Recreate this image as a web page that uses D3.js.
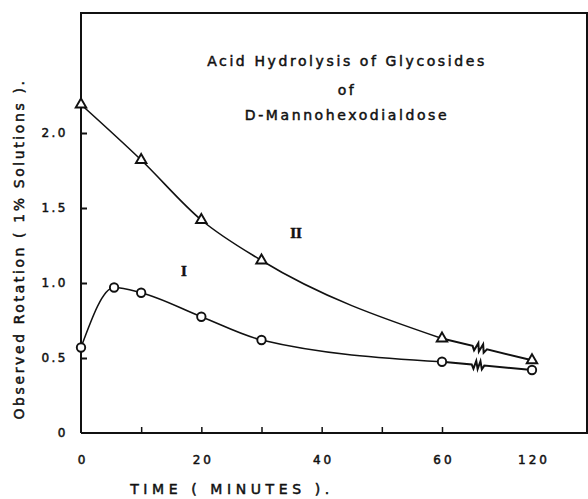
<!DOCTYPE html>
<html>
<head>
<meta charset="utf-8">
<script src="https://cdn.jsdelivr.net/npm/d3@7"></script>
<style>
  body { margin: 0; background: #fff; }
  svg text { font-family: "DejaVu Sans", sans-serif; fill: #111; stroke: #111; stroke-width: 0.5px; }
</style>
</head>
<body>
<svg id="chart" width="588" height="499"></svg>
<script>
// data
let timeI = [0, 5.5, 10, 20, 30, 60, 120]
let rotI = [0.57, 0.97, 0.935, 0.775, 0.62, 0.475, 0.42]
let timeII = [0, 10, 20, 30, 60, 120]
let rotII = [2.19, 1.82, 1.42, 1.15, 0.63, 0.485]
let yTicks = [0, 0.5, 1.0, 1.5, 2.0]
let xTicks = [0, 10, 20, 30, 40, 50, 60, 120]
let xLabelled = [0, 20, 40, 60, 120]
let titleLines = ["Acid Hydrolysis of Glycosides", "of", "D-Mannohexodialdose"]

let svg = d3.select("#chart")
let mLeft = 81, mRight = 587, mTop = 13, mBottom = 433

// broken time axis: 0-60 linear, then jump to 120
let x = d3.scaleLinear().domain([0, 60, 120]).range([mLeft, 442, 532])
let y = d3.scaleLinear().domain([0, 2.8]).range([mBottom, mTop])

// frame
svg.append("path")
    .attr("d", `M${mLeft},${mBottom}V${mTop}H${mRight}V${mBottom}H${mLeft}`)
    .attr("fill", "none").attr("stroke", "#111").attr("stroke-width", 2)

// y axis
let yAxis = svg.append("g")
    .attr("transform", `translate(${mLeft},0)`)
    .call(d3.axisLeft(y).tickValues(yTicks).tickSizeInner(-6).tickSizeOuter(0).tickPadding(13)
        .tickFormat(d => d === 0 ? "0" : d3.format(".1f")(d)))
yAxis.select(".domain").remove()
yAxis.selectAll("line").attr("stroke", "#111").attr("stroke-width", 2)
    .filter(d => d === 0).remove()
yAxis.selectAll("text").attr("font-size", 12).attr("letter-spacing", 2.5)
    .style("font-family", "DejaVu Sans").attr("fill", "#111")

// x axis
let xAxis = svg.append("g")
    .attr("transform", `translate(0,${mBottom})`)
    .call(d3.axisBottom(x).tickValues(xTicks).tickSizeInner(-6).tickSizeOuter(0).tickPadding(22)
        .tickFormat(d => xLabelled.includes(d) ? d : ""))
xAxis.select(".domain").remove()
xAxis.selectAll("line").attr("stroke", "#111").attr("stroke-width", 1.5)
    .filter(d => d === 0 || d === 120).remove()
xAxis.selectAll("text").attr("font-size", 12).attr("letter-spacing", 3)
    .style("font-family", "DejaVu Sans").attr("fill", "#111")
    .attr("dx", "0.12em")

// smooth curves up to 60 min
let line = d3.line().x(d => x(d[0])).y(d => y(d[1])).curve(d3.curveMonotoneX)
let ptsI = timeI.map((t, i) => [t, rotI[i]])
let ptsII = timeII.map((t, i) => [t, rotII[i]])

svg.append("path").attr("d", line(ptsI.filter(d => d[0] <= 60)))
    .attr("fill", "none").attr("stroke", "#111").attr("stroke-width", 1.6)
svg.append("path").attr("d", line(ptsII.filter(d => d[0] <= 60)))
    .attr("fill", "none").attr("stroke", "#111").attr("stroke-width", 1.6)

// straight segment 60 -> 120 with a zigzag break
function brokenSegment(p0, p1, f0, f1) {
    let x0 = x(p0[0]), y0 = y(p0[1]), x1 = x(p1[0]), y1 = y(p1[1])
    let dx = x1 - x0, dy = y1 - y0, len = Math.hypot(dx, dy)
    let nx = -dy / len, ny = dx / len
    let path = d3.path()
    path.moveTo(x0, y0)
    path.lineTo(x0 + dx * f0, y0 + dy * f0)
    let n = 6
    for (let k = 1; k <= n; k++) {
        let f = f0 + (f1 - f0) * k / n
        let amp = k === n ? 0 : (k % 2 ? 4 : -4)
        path.lineTo(x0 + dx * f + nx * amp, y0 + dy * f + ny * amp)
    }
    path.lineTo(x1, y1)
    return path.toString()
}
svg.append("path").attr("d", brokenSegment(ptsII[4], ptsII[5], 0.34, 0.50))
    .attr("fill", "none").attr("stroke", "#111").attr("stroke-width", 2)
svg.append("path").attr("d", brokenSegment(ptsI[5], ptsI[6], 0.33, 0.47))
    .attr("fill", "none").attr("stroke", "#111").attr("stroke-width", 2)

// markers
svg.selectAll(".circ").data(ptsI).enter().append("circle")
    .attr("class", "circ")
    .attr("cx", d => x(d[0])).attr("cy", d => y(d[1])).attr("r", 4.2)
    .attr("fill", "#fff").attr("stroke", "#111").attr("stroke-width", 1.9)
let tri = d3.symbol().type(d3.symbolTriangle).size(48)
svg.selectAll(".tri").data(ptsII).enter().append("path")
    .attr("class", "tri")
    .attr("transform", d => `translate(${x(d[0])},${y(d[1])})`)
    .attr("d", tri)
    .attr("fill", "#fff").attr("stroke", "#111").attr("stroke-width", 1.9)

// curve labels
svg.append("text").attr("x", 184).attr("y", 276).attr("text-anchor", "middle")
    .style("font-family", "Liberation Serif")
    .attr("font-size", 15).attr("font-weight", "bold").text("I")
svg.append("text").attr("x", 296).attr("y", 238).attr("text-anchor", "middle")
    .style("font-family", "Liberation Serif")
    .attr("font-size", 15).attr("font-weight", "bold").text("II")

// title
let titleY = [66, 95, 120]
svg.selectAll(".title").data(titleLines).enter().append("text")
    .attr("class", "title")
    .attr("x", 347).attr("y", (d, i) => titleY[i])
    .attr("text-anchor", "middle")
    .attr("font-size", 14).attr("letter-spacing", 2.6)
    .text(d => d)

// axis titles
svg.append("text").attr("x", 232).attr("y", 494).attr("text-anchor", "middle")
    .attr("font-size", 14).attr("letter-spacing", 4.6)
    .text("TIME ( MINUTES ).")
svg.append("text")
    .attr("transform", "translate(24,249) rotate(-90)")
    .attr("text-anchor", "middle")
    .attr("font-size", 14).attr("letter-spacing", 2.6)
    .text("Observed Rotation ( 1% Solutions ).")
</script>
</body>
</html>
